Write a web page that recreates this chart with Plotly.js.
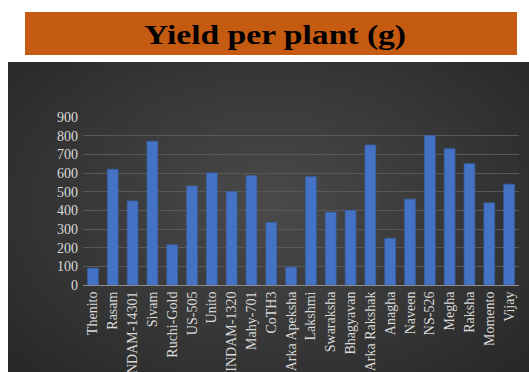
<!DOCTYPE html>
<html><head><meta charset="utf-8">
<script src="https://cdn.plot.ly/plotly-3.0.1.min.js"></script>
<style>
html,body{margin:0;padding:0;background:#fff;}
#wrap{position:relative;width:529px;height:372px;overflow:hidden;}
#bg{position:absolute;left:8px;top:62px;width:521px;height:320px;
 background:radial-gradient(ellipse at 50% 45%, #4a4a4a 0%, #3a3a3a 45%, #262626 100%);}
#chart{position:absolute;left:0;top:0;width:529px;height:372px;}
</style></head>
<body>
<div id="wrap"><div id="bg"></div><div id="chart"></div></div>
<script>
const categories = ["Thenito","Rasam","INDAM-14301","Sivam","Ruchi-Gold","US-505","Unito","INDAM-1320","Mahy-701","CoTH3","Arka Apeksha","Lakshmi","Swaraksha","Bhagyavan","Arka Rakshak","Anagha","Naveen","NS-526","Megha","Raksha","Momento","Vijay"];
const yieldValues = [90,620,450,770,215,530,600,500,585,335,95,580,390,400,750,250,460,800,730,650,440,540];
const yTicks = [0,100,200,300,400,500,600,700,800,900];
const titleText = "Yield per plant (g)";

const trace = {
  type: "bar",
  x: categories,
  y: yieldValues,
  marker: {color: "#4472C4", line: {color: "#3a62ab", width: 0.8}},
  hoverinfo: "skip"
};
const titleCx = 275;
const layout = {
  width: 529, height: 372,
  margin: {l: 83, r: 10, t: 117, b: 87},
  paper_bgcolor: "rgba(0,0,0,0)",
  plot_bgcolor: "rgba(0,0,0,0)",
  showlegend: false,
  bargap: 0.46,
  font: {family: "Liberation Serif, Times New Roman, serif", size: 14, color: "#D9D9D9"},
  title: {text: "<b>" + titleText + "</b>", xref: "container", x: titleCx / 529, xanchor: "center",
    yref: "container", y: 0.908, yanchor: "middle",
    font: {family: "Liberation Serif, Times New Roman, serif", size: 28, color: "#000000"}},
  shapes: [{type: "rect", xref: "paper", yref: "paper", layer: "below",
    x0: (25-83)/436, x1: (517-83)/436, y0: (285-55)/168, y1: (285-12)/168,
    fillcolor: "#C55A11", line: {width: 0}}],
  xaxis: {
    tickangle: -90, showgrid: false, zeroline: false,
    showline: true, linecolor: "#8c8c8c", linewidth: 1,
    ticks: "", tickfont: {size: 14, color: "#D9D9D9"}
  },
  yaxis: {
    range: [0, 900], tickvals: yTicks, ticktext: yTicks.map(String),
    showgrid: true, gridcolor: "#585858", gridwidth: 1,
    zeroline: false, showline: false, ticks: "",
    tickfont: {size: 14, color: "#D9D9D9"}, ticklabelstandoff: 4
  }
};
Plotly.newPlot("chart", [trace], layout, {displayModeBar: false, staticPlot: true}).then(function(gd){
  const t = gd.querySelector(".g-gtitle text.gtitle");
  if (t) t.setAttribute("transform", "translate(" + titleCx + ",0) scale(1.2,1) translate(" + (-titleCx) + ",0)");
});
</script>
</body></html>
